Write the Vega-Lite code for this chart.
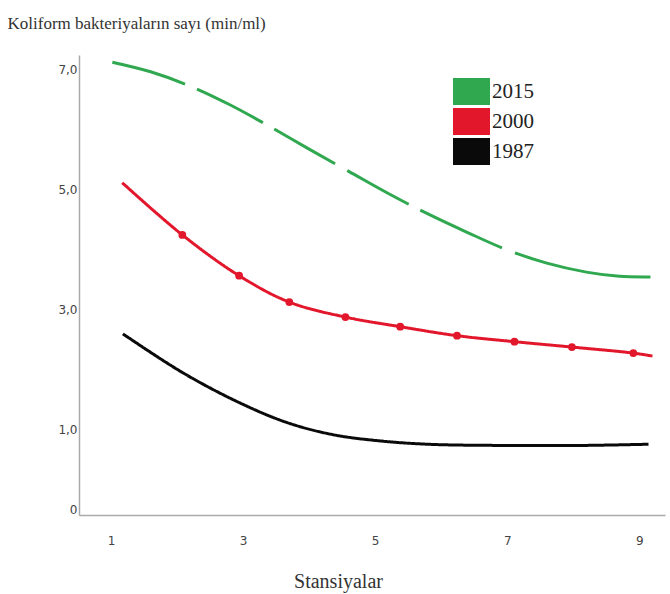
{
  "$schema": "https://vega.github.io/schema/vega-lite/v6.json",
  "width": 586,
  "height": 460,
  "autosize": "none",
  "padding": {"left": 79, "top": 55, "right": 5, "bottom": 79},
  "background": "white",
  "config": {
    "view": {"stroke": null},
    "axis": {"grid": false, "ticks": false, "domainColor": "#aaaaaa", "domainWidth": 1.5}
  },
  "data": {
    "values": [
      {"year": "2015", "station": 1.02, "count": 7.13},
      {"year": "2015", "station": 1.6, "count": 6.97},
      {"year": "2015", "station": 2.2, "count": 6.73},
      {"year": "2015", "station": 2.8, "count": 6.42},
      {"year": "2015", "station": 3.4, "count": 6.06},
      {"year": "2015", "station": 4.0, "count": 5.68},
      {"year": "2015", "station": 4.6, "count": 5.31},
      {"year": "2015", "station": 5.2, "count": 4.94},
      {"year": "2015", "station": 5.8, "count": 4.6},
      {"year": "2015", "station": 6.4, "count": 4.29},
      {"year": "2015", "station": 7.0, "count": 4.0},
      {"year": "2015", "station": 7.6, "count": 3.78},
      {"year": "2015", "station": 8.2, "count": 3.63},
      {"year": "2015", "station": 8.7, "count": 3.56},
      {"year": "2015", "station": 9.17, "count": 3.55},
      {"year": "2000", "station": 1.17, "count": 5.12},
      {"year": "2000", "station": 2.08, "count": 4.25},
      {"year": "2000", "station": 2.94, "count": 3.57},
      {"year": "2000", "station": 3.7, "count": 3.13},
      {"year": "2000", "station": 4.55, "count": 2.88},
      {"year": "2000", "station": 5.38, "count": 2.72},
      {"year": "2000", "station": 6.24, "count": 2.57},
      {"year": "2000", "station": 7.11, "count": 2.47},
      {"year": "2000", "station": 7.98, "count": 2.38},
      {"year": "2000", "station": 8.91, "count": 2.28},
      {"year": "2000", "station": 9.2, "count": 2.23},
      {"year": "1987", "station": 1.18, "count": 2.6},
      {"year": "1987", "station": 2.09, "count": 1.95},
      {"year": "1987", "station": 2.95, "count": 1.45},
      {"year": "1987", "station": 3.67, "count": 1.12},
      {"year": "1987", "station": 4.36, "count": 0.92},
      {"year": "1987", "station": 5.03, "count": 0.82},
      {"year": "1987", "station": 5.79, "count": 0.76},
      {"year": "1987", "station": 6.89, "count": 0.74},
      {"year": "1987", "station": 8.15, "count": 0.74},
      {"year": "1987", "station": 9.14, "count": 0.76}
    ]
  },
  "encoding": {
    "x": {
      "field": "station",
      "type": "quantitative",
      "scale": {"domain": [0.515, 9.39], "nice": false, "zero": false},
      "axis": {
        "values": [1, 3, 5, 7, 9],
        "title": "Stansiyalar",
        "labelFont": "DejaVu Sans",
        "labelFontSize": 12,
        "labelColor": "#444",
        "labelPadding": 20,
        "labelFlush": false,
        "titleFont": "Liberation Serif",
        "titleFontSize": 20,
        "titleFontWeight": "normal",
        "titleColor": "#333",
        "titleX": 259,
        "titleY": 72,
        "titleBaseline": "alphabetic",
        "titleAnchor": null
      }
    },
    "y": {
      "field": "count",
      "type": "quantitative",
      "scale": {"domain": [-0.42, 7.25], "nice": false, "zero": false},
      "axis": {
        "values": [-0.33, 1, 3, 5, 7],
        "labelExpr": "datum.value < 0 ? '0' : replace(format(datum.value, '.1f'), '.', ',')",
        "title": "Koliform bakteriyaların sayı (min/ml)",
        "titleFont": "Liberation Serif",
        "titleFontSize": 17,
        "titleFontWeight": "normal",
        "titleColor": "#333",
        "titleAngle": 0,
        "titleAlign": "left",
        "titleBaseline": "alphabetic",
        "titleX": -72,
        "titleY": -27,
        "titleAnchor": null,
        "labelFont": "DejaVu Sans",
        "labelFontSize": 12,
        "labelColor": "#444",
        "labelPadding": 2,
        "labelFlush": false
      }
    },
    "color": {
      "field": "year",
      "type": "nominal",
      "scale": {"domain": ["2015", "2000", "1987"], "range": ["#2fa84f", "#e3172b", "#0a0a0a"]},
      "legend": {
        "title": null,
        "orient": "none",
        "legendX": 379,
        "legendY": 23,
        "padding": 0,
        "symbolType": "M-1.37,-1H1.37V1H-1.37Z",
        "symbolSize": 729,
        "symbolStrokeWidth": 0,
        "rowPadding": 3,
        "labelOffset": 7,
        "labelFont": "Liberation Serif",
        "labelFontSize": 21,
        "labelColor": "#222",
        "encode": {
          "symbols": {
            "update": {
              "fill": {"scale": "color", "field": "value"},
              "opacity": {"value": 1}
            }
          }
        }
      }
    }
  },
  "layer": [
    {
      "mark": {"type": "line", "interpolate": "catmull-rom", "strokeWidth": 3},
      "encoding": {
        "strokeDash": {
          "field": "year",
          "type": "nominal",
          "scale": {"domain": ["2015", "2000", "1987"], "range": [[76, 13, 74, 13, 70, 14, 70, 13, 90, 14, 300, 1], [1, 0], [1, 0]]},
          "legend": null
        }
      }
    },
    {
      "transform": [{"filter": "datum.year == '2000' && datum.station > 1.5 && datum.station < 9"}],
      "mark": {"type": "point", "filled": true, "size": 60, "opacity": 1, "shape": "circle"},
      "encoding": {}
    }
  ]
}
